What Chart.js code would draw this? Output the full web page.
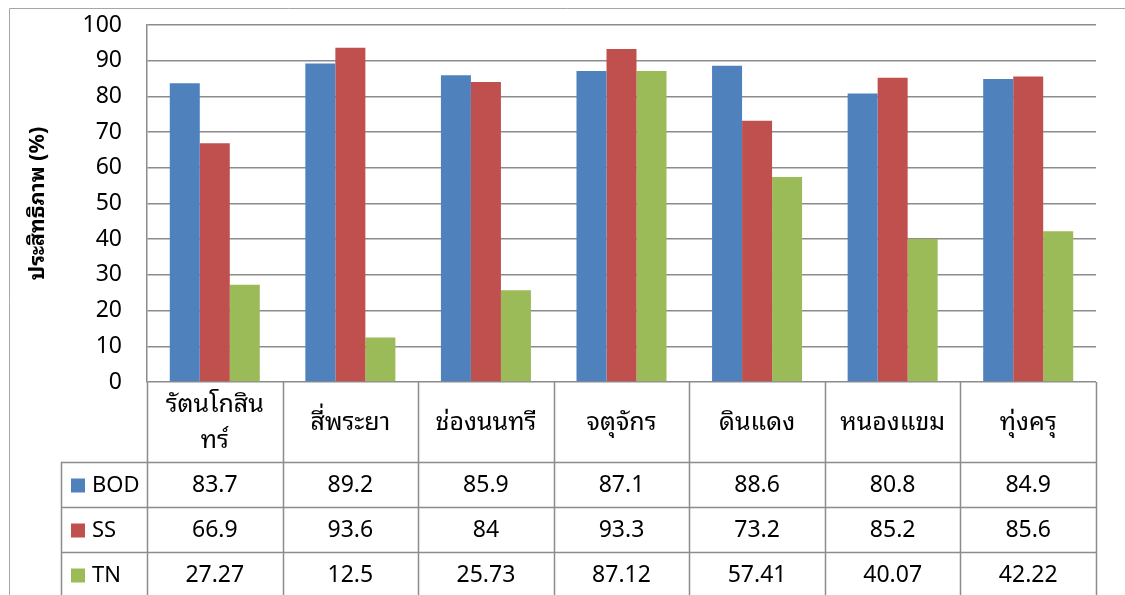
<!DOCTYPE html>
<html><head><meta charset="utf-8">
<script src="https://cdn.jsdelivr.net/npm/chart.js@4/dist/chart.umd.min.js"></script>
<style>html,body{margin:0;padding:0;background:#fff;}canvas{display:block;}</style>
</head><body>
<canvas id="c" width="1125" height="595"></canvas>
<script>
const categories = [['รัตนโกสิน','ทร์'], 'สี่พระยา', 'ช่องนนทรี', 'จตุจักร', 'ดินแดง', 'หนองแขม', 'ทุ่งครุ'];
const seriesNames = ['BOD', 'SS', 'TN'];
const bod = [83.7, 89.2, 85.9, 87.1, 88.6, 80.8, 84.9];
const ss = [66.9, 93.6, 84, 93.3, 73.2, 85.2, 85.6];
const tn = [27.27, 12.5, 25.73, 87.12, 57.41, 40.07, 42.22];
const colors = ['#4F81BD', '#C0504D', '#9BBB59'];
const yTitle = 'ประสิทธิภาพ (%)';
const FONT = "'Noto Sans', 'Noto Sans Thai Looped', sans-serif";

const tablePlugin = {
  id: 'tablePlugin',
  afterDraw(chart) {
    const ctx = chart.ctx;
    const xs = chart.scales.x;
    const ca = chart.chartArea;
    const n = categories.length;
    const cw = (ca.right - ca.left) / n;
    const top = Math.round(ca.bottom);
    const headerBottom = 462;
    const rowH = 45;
    const legendLeft = 61;
    const bottom = 600;
    ctx.save();
    ctx.strokeStyle = '#a6a6a6';
    ctx.lineWidth = 1;
    ctx.beginPath();
    ctx.moveTo(9.5, 600); ctx.lineTo(9.5, 8.5); ctx.lineTo(1125, 8.5);
    ctx.stroke();
    ctx.strokeStyle = '#8c8c8c';
    ctx.lineWidth = 1.5;
    ctx.beginPath();
    for (let i = 0; i <= n; i++) {
      const x = Math.round(ca.left + i * cw) + 0.5;
      ctx.moveTo(x, top); ctx.lineTo(x, bottom);
    }
    ctx.moveTo(legendLeft + 0.5, headerBottom); ctx.lineTo(legendLeft + 0.5, bottom);
    for (let r = 0; r < 3; r++) {
      const y = headerBottom + r * rowH + 0.5;
      ctx.moveTo(legendLeft, y); ctx.lineTo(ca.right, y);
    }
    ctx.stroke();
    ctx.fillStyle = '#000';
    ctx.textAlign = 'center';
    ctx.textBaseline = 'middle';
    ctx.font = "25px 'Noto Sans Thai Looped', 'Noto Sans', sans-serif";
    categories.forEach((lab, i) => {
      const cx = xs.getPixelForValue(i);
      const lines = Array.isArray(lab) ? lab : [lab];
      const lh = 36;
      const mid = (top + headerBottom) / 2 + 1;
      lines.forEach((ln, k) => {
        ctx.fillText(ln, cx, mid + (k - (lines.length - 1) / 2) * lh);
      });
    });
    const series = [bod, ss, tn];
    series.forEach((arr, r) => {
      const yc = headerBottom + r * rowH + rowH / 2 + 1;
      ctx.fillStyle = colors[r];
      ctx.fillRect(71, yc - 7, 14, 14);
      ctx.fillStyle = '#000';
      ctx.textAlign = 'left';
      ctx.font = '22px ' + FONT;
      ctx.fillText(seriesNames[r], 92, yc);
      ctx.textAlign = 'center';
      ctx.font = '23px ' + FONT;
      arr.forEach((v, i) => {
        ctx.fillText(String(v), xs.getPixelForValue(i), yc);
      });
    });
    ctx.restore();
  }
};

new Chart(document.getElementById('c'), {
  type: 'bar',
  data: {
    labels: categories.map(c => Array.isArray(c) ? c.join('') : c),
    datasets: [bod, ss, tn].map((d, i) => ({
      label: seriesNames[i], data: d, backgroundColor: colors[i], borderWidth: 0,
      categoryPercentage: 0.664, barPercentage: 1.0
    }))
  },
  options: {
    responsive: false,
    animation: false,
    layout: { padding: { top: 25, right: 29, bottom: 213, left: 0 } },
    plugins: { legend: { display: false }, tooltip: { enabled: false } },
    scales: {
      x: { display: false },
      y: {
        min: 0, max: 100,
        afterFit(s) { s.width = 147; s.paddingTop = 0; s.paddingBottom = 0; },
        ticks: { stepSize: 10, color: '#000', padding: 25, font: { size: 23, family: FONT } },
        grid: { color: '#8c8c8c', lineWidth: 1.5, drawTicks: false },
        border: { display: true, color: '#8c8c8c', width: 1.5 },
        title: { display: true, text: yTitle, color: '#000', font: { size: 21.5, weight: 'bold', family: "'Noto Sans Thai Looped', 'Noto Sans', sans-serif" }, padding: { top: 25, bottom: 0 } }
      }
    }
  },
  plugins: [tablePlugin]
});
</script>
</body></html>
